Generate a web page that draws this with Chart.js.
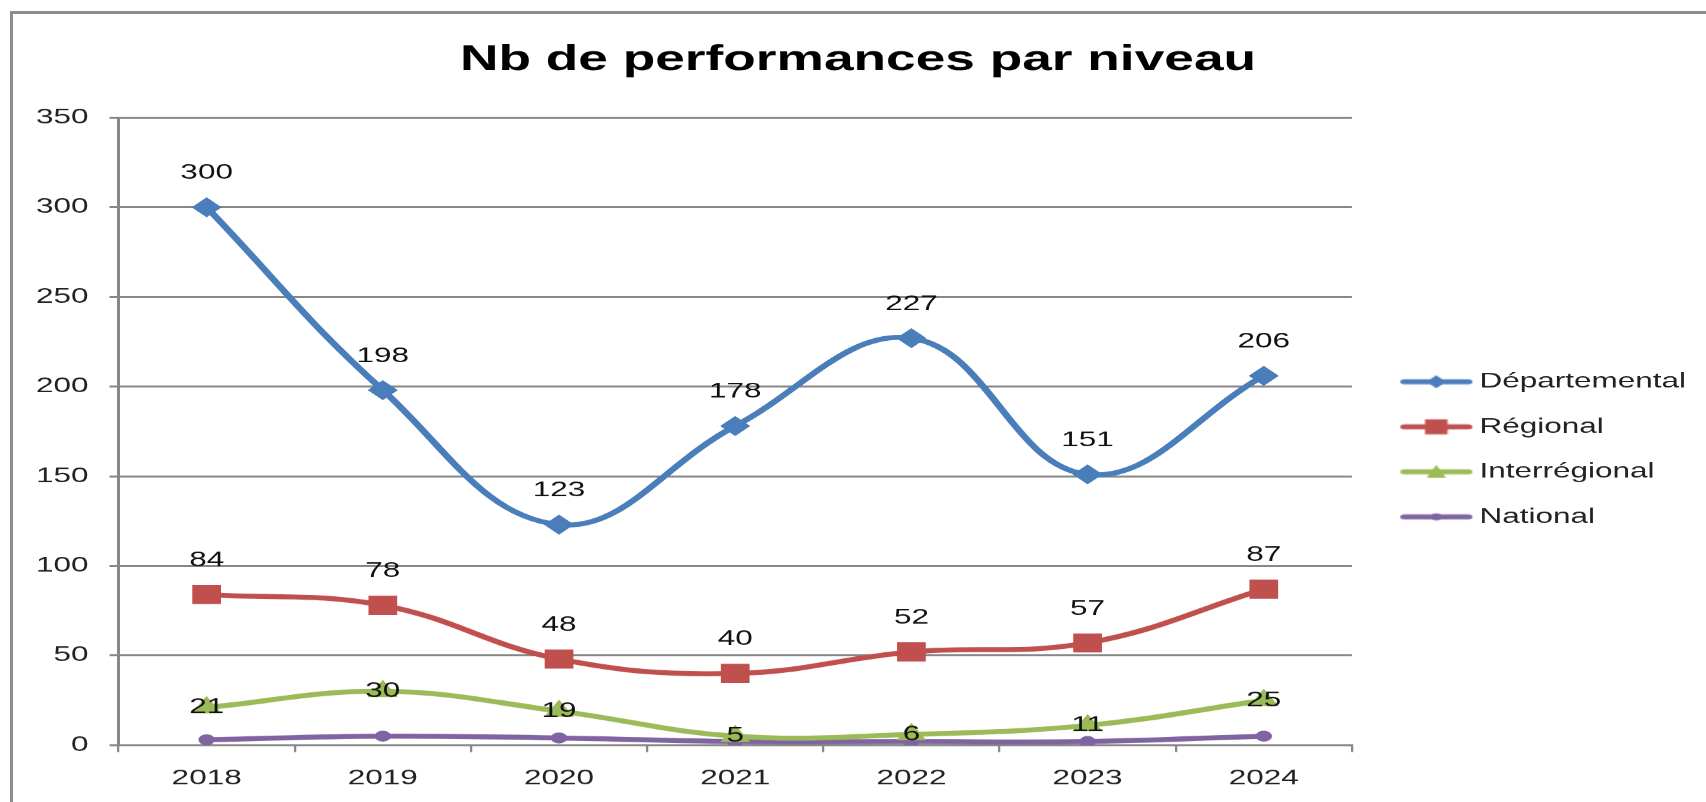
<!DOCTYPE html>
<html>
<head>
<meta charset="utf-8">
<script src="https://cdn.jsdelivr.net/npm/chart.js@4/dist/chart.umd.min.js"></script>
<style>
  html, body { margin: 0; padding: 0; background: #fff; overflow: hidden; }
  #cadre { position: absolute; left: 10px; top: 11px; width: 1720px; height: 820px; border: 3px solid #8c8c8c; box-sizing: border-box; }
  /* le graphe d'origine est etire en largeur : on dessine a 1138px puis on etire x1.5 */
  #zone { position: absolute; left: 0; top: 0; width: 1138px; height: 805px; transform: scaleX(1.5); transform-origin: 0 0; }
</style>
</head>
<body>
<div id="cadre"></div>
<div id="zone"><canvas id="graphe" width="1138" height="805"></canvas></div>
<script>
// Donnees
const titre = 'Nb de performances par niveau';
const annees = ['2018', '2019', '2020', '2021', '2022', '2023', '2024'];
const departemental = [300, 198, 123, 178, 227, 151, 206];
const regional = [84, 78, 48, 40, 52, 57, 87];
const interregional = [21, 30, 19, 5, 6, 11, 25];
const national = [3, 5, 4, 2, 2, 2, 5];
const graduations = [0, 50, 100, 150, 200, 250, 300, 350];

const police = 'Liberation Sans, Arial, sans-serif';
const gris = '#878787';
const bleu = '#4a7ebb';
const rouge = '#c0504d';
const vert = '#9bbb59';
const violet = '#8064a2';

// petite icone "trait + marqueur" pour la legende (decalee a droite dans son cadre)
function icone(couleur, forme) {
    const c = document.createElement('canvas');
    c.width = 68; c.height = 20;
    const g = c.getContext('2d');
    const m = 41, y = 10;
    g.strokeStyle = couleur;
    g.fillStyle = couleur;
    g.lineWidth = 5;
    g.lineCap = 'round';
    g.beginPath(); g.moveTo(19.5, y); g.lineTo(62.5, y); g.stroke();
    g.beginPath();
    if (forme === 'losange') {
        g.moveTo(m, y - 6.5); g.lineTo(m + 6.5, y); g.lineTo(m, y + 6.5); g.lineTo(m - 6.5, y);
    } else if (forme === 'carre') {
        g.rect(m - 7.5, y - 7.5, 15, 15);
    } else if (forme === 'triangle') {
        g.moveTo(m, y - 7); g.lineTo(m + 6.5, y + 6); g.lineTo(m - 6.5, y + 6);
    } else {
        g.arc(m, y, 3.5, 0, Math.PI * 2);
    }
    g.fill();
    return c;
}
const icones = [icone(bleu, 'losange'), icone(rouge, 'carre'), icone(vert, 'triangle'), icone(violet, 'rond')];

// valeurs ecrites a cote des points
const etiquettes = {
    id: 'etiquettes',
    afterDatasetsDraw(chart) {
        const ctx = chart.ctx;
        ctx.save();
        ctx.font = '21px ' + police;
        ctx.fillStyle = '#111';
        ctx.textAlign = 'center';
        ctx.textBaseline = 'middle';
        chart.data.datasets.forEach((ds, i) => {
            if (ds.decalage === undefined) return;
            chart.getDatasetMeta(i).data.forEach((pt, j) => {
                ctx.fillText(String(ds.data[j]), pt.x, pt.y + ds.decalage);
            });
        });
        ctx.restore();
    }
};

const ctx = document.getElementById('graphe').getContext('2d');
new Chart(ctx, {
    type: 'line',
    data: {
        labels: annees,
        datasets: [
            { label: 'Départemental', data: departemental, borderColor: bleu, backgroundColor: bleu, borderWidth: 5,
              pointStyle: 'rectRot', pointRadius: 6.5, tension: 0.4, decalage: -34 },
            { label: 'Régional', data: regional, borderColor: rouge, backgroundColor: rouge, borderWidth: 5,
              pointStyle: 'rect', pointRadius: 10, tension: 0.4, decalage: -34 },
            { label: 'Interrégional', data: interregional, borderColor: vert, backgroundColor: vert, borderWidth: 5,
              pointStyle: 'triangle', pointRadius: 6.5, tension: 0.4, decalage: 0 },
            { label: 'National', data: national, borderColor: violet, backgroundColor: violet, borderWidth: 5,
              pointStyle: 'circle', pointRadius: 3, tension: 0.4 }
        ]
    },
    options: {
        responsive: false,
        animation: false,
        devicePixelRatio: 1.5,
        layout: { padding: { left: 10, right: 4, top: 0, bottom: 0 } },
        plugins: {
            title: {
                display: true,
                text: titre,
                color: '#000',
                font: { family: police, size: 35.5, weight: 'bold' },
                padding: { top: 39, bottom: 36 }
            },
            legend: {
                position: 'right',
                title: { display: true, text: '', font: { size: 1 }, padding: { top: 92, bottom: 0 } },
                labels: {
                    usePointStyle: true,
                    pointStyleWidth: 50.5,
                    padding: 24,
                    color: '#222',
                    font: { family: police, size: 21 },
                    generateLabels: function (chart) {
                        const items = Chart.defaults.plugins.legend.labels.generateLabels(chart);
                        items.forEach((it, i) => { it.pointStyle = icones[i]; });
                        return items;
                    }
                }
            },
            tooltip: { enabled: false }
        },
        scales: {
            x: {
                offset: true,
                grid: { offset: true, drawOnChartArea: false, tickLength: 7, color: gris, lineWidth: 1.5 },
                border: { color: gris, width: 2 },
                ticks: { padding: 14, color: '#222', font: { family: police, size: 21 } }
            },
            y: {
                min: 0,
                max: 350,
                afterBuildTicks: function (axis) {
                    axis.ticks = graduations.map(v => ({ value: v }));
                },
                grid: { color: gris, lineWidth: 2, tickLength: 6 },
                border: { color: gris, width: 2 },
                ticks: { padding: 14, color: '#222', font: { family: police, size: 21 } }
            }
        }
    },
    plugins: [etiquettes]
});
</script>
</body>
</html>
